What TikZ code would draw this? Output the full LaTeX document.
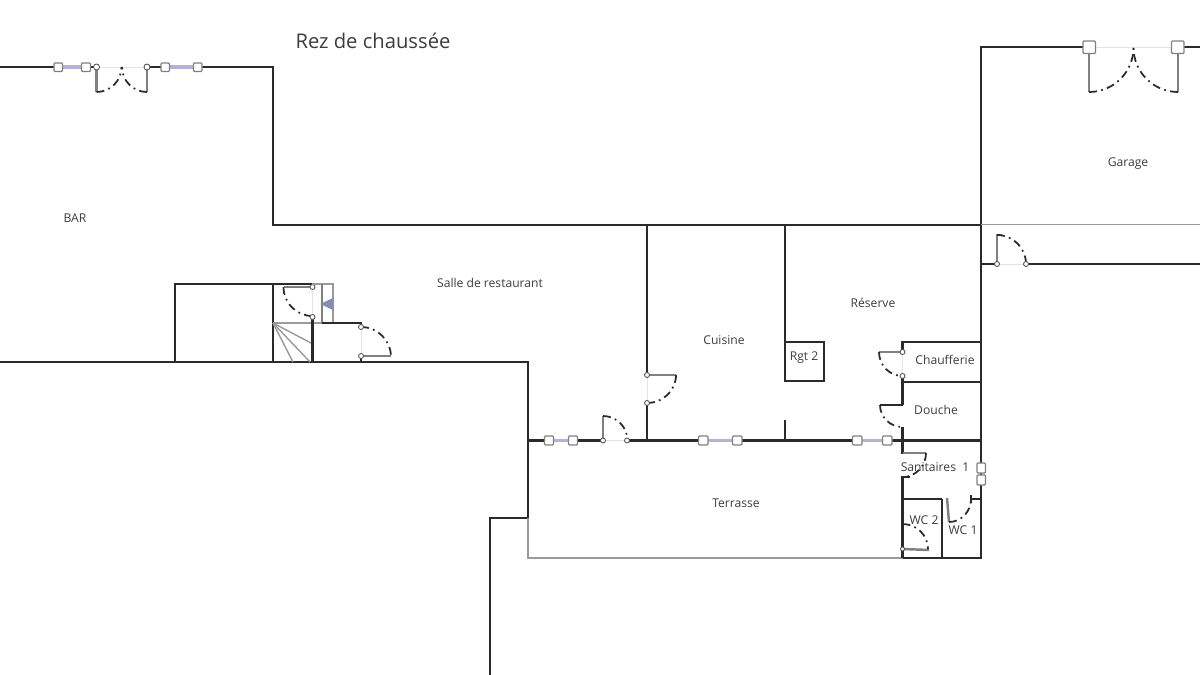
\documentclass[tikz,border=0pt]{standalone}
\usepackage{fontspec}
\setmainfont{Open Sans}
\usepackage{xcolor}
\definecolor{wallcol}{HTML}{2A2A2A}
\definecolor{leafcol}{HTML}{808080}
\definecolor{thincol}{HTML}{9A9A9A}
\definecolor{palecol}{HTML}{E4E4E4}
\definecolor{glasscol}{HTML}{B4B2DC}
\definecolor{pincol}{HTML}{7F8FB5}
\definecolor{textcol}{HTML}{3C3C3C}
\tikzset{
  wall/.style={draw=wallcol,line width=1.2pt,line join=miter},
  thinwall/.style={draw=thincol,line width=0.8pt},
  pale/.style={draw=palecol,line width=0.5pt},
  leaf/.style={draw=leafcol,line width=1.4pt},
  swing/.style={draw=wallcol,line width=1pt,dash pattern=on 4.5pt off 2.5pt on 1pt off 2.5pt},
  glass/.style={draw=glasscol,line width=2.2pt},
  pane/.style={draw=leafcol,fill=white,line width=0.75pt,rounded corners=0.6pt},
  knob/.style={draw=wallcol!80,fill=white,line width=0.5pt},
  roomlabel/.style={text=textcol,font=\fontsize{6.9}{8}\selectfont,inner sep=0pt}
}
\begin{document}
\begin{tikzpicture}[x=0.02cm,y=0.02cm]
\useasboundingbox (0,0) rectangle (1200,-675);
\draw [wall] (0,-67) -- (58,-67);
\draw [wall] (86,-67) -- (96.5,-67);
\draw [wall] (147,-67) -- (165,-67);
\draw [wall] (198,-67) -- (273,-67) -- (273,-225) -- (981,-225);
\draw [glass] (58,-67) -- (86,-67);
\draw [glass] (165,-67) -- (198,-67);
\draw [pale] (96.5,-67) -- (147,-67);
\draw [leaf] (96.5,-67) -- (96.5,-92);
\draw [leaf] (147,-67) -- (147,-92);
\draw [swing] (96.5,-92) arc (270:360:25);
\draw [swing] (147,-92) arc (270:180:25);
\draw [pane] (54,-63) rectangle (62.5,-71.5);
\draw [pane] (81.5,-63) rectangle (90.5,-71.5);
\draw [knob] (96.5,-67) circle (3);
\draw [knob] (147,-67) circle (3);
\draw [pane] (161,-63) rectangle (169.5,-71.5);
\draw [pane] (193.5,-63) rectangle (202,-71.5);
\draw [wall] (1090,-47) -- (981,-47) -- (981,-558) -- (903,-558);
\draw [wall] (1177,-47) -- (1200,-47);
\draw [pale] (1090,-47) -- (1177,-47);
\draw [leaf] (1089,-47) -- (1089,-92);
\draw [leaf] (1178,-47) -- (1178,-92);
\draw [swing] (1089,-92) arc (270:360:44.5);
\draw [swing] (1178,-92) arc (270:180:44.5);
\draw [pane] (1083,-41) rectangle (1095.5,-53.5);
\draw [pane] (1171.5,-41) rectangle (1184,-53.5);
\draw [thinwall] (981,-224.5) -- (1200,-224.5);
\draw [wall] (981,-264) -- (997,-264);
\draw [wall] (1026,-264) -- (1200,-264);
\draw [pale] (997,-264) -- (1026,-264);
\draw [leaf] (997,-264) -- (997,-235) -- (1002,-235);
\draw [swing] (997,-235) arc (90:0:29);
\draw [knob] (997,-264) circle (2.5);
\draw [knob] (1026,-264) circle (2.5);
\draw [wall] (175,-362) -- (175,-284) -- (312,-284);
\draw [wall] (273,-284) -- (273,-362);
\draw [wall] (0,-362) -- (528,-362) -- (528,-518);
\draw [wall] (490,-675) -- (490,-518) -- (528,-518);
\draw [thinwall] (528,-518) -- (528,-558) -- (903,-558);
\draw [thinwall] (273,-323) -- (322,-323);
\draw [thinwall] (273,-323) -- (311,-343);
\draw [thinwall] (273,-323) -- (310,-362);
\draw [thinwall] (273,-323) -- (293,-362);
\draw [wall] (312.5,-317) -- (312.5,-362);
\draw [pale] (312.5,-287) -- (312.5,-317);
\draw [leaf] (312.5,-287) -- (283.5,-287);
\draw [swing] (283.5,-287) arc (180:270:29);
\draw [knob] (312.5,-287) circle (2.5);
\draw [knob] (312.5,-317) circle (2.5);
\draw [thinwall] (312,-284) -- (333,-284) -- (333,-323);
\draw [draw=leafcol,line width=0.8pt] (322,-284) -- (322,-323);
\draw [wall] (322,-323) -- (361,-323) -- (361,-327);
\draw [wall] (361,-356) -- (361,-362);
\draw [pale] (361,-327) -- (361,-356);
\fill [pincol] (320,-304) -- (333,-298) -- (333,-310) -- cycle;
\draw [leaf] (361,-356) -- (391,-356);
\draw [swing] (361,-327) arc (90:0:30);
\draw [knob] (361,-327) circle (2.5);
\draw [knob] (361,-356) circle (2.5);
\draw [wall] (528,-440.5) -- (549,-440.5);
\draw [wall] (573,-440.5) -- (603,-440.5);
\draw [wall] (627,-440.5) -- (703,-440.5);
\draw [wall] (737,-440.5) -- (857,-440.5);
\draw [wall] (887,-440.5) -- (981,-440.5);
\draw [glass] (549,-440.5) -- (573,-440.5);
\draw [glass] (703,-440.5) -- (737,-440.5);
\draw [glass] (857,-440.5) -- (887,-440.5);
\draw [pane] (544.5,-436) rectangle (553.5,-445);
\draw [pane] (568.5,-436) rectangle (577.5,-445);
\draw [pane] (698.5,-436) rectangle (708,-445);
\draw [pane] (732.5,-436) rectangle (742,-445);
\draw [pane] (852.5,-436) rectangle (862,-445);
\draw [pane] (882.5,-436) rectangle (892,-445);
\draw [pale] (603,-440.5) -- (627,-440.5);
\draw [leaf] (603,-440.5) -- (603,-416);
\draw [swing] (603,-416) arc (90:0:24.5);
\draw [knob] (603,-440.5) circle (2.5);
\draw [knob] (627,-440.5) circle (2.5);
\draw [wall] (647,-225) -- (647,-375);
\draw [wall] (647,-403) -- (647,-440.5);
\draw [pale] (647,-375) -- (647,-403);
\draw [leaf] (647,-375) -- (676,-375);
\draw [swing] (676,-375) arc (0:-90:29 and 28);
\draw [knob] (647,-375) circle (2.5);
\draw [knob] (647,-403) circle (2.5);
\draw [wall] (785,-225) -- (785,-381) -- (824,-381) -- (824,-342) -- (785,-342);
\draw [wall] (785,-420) -- (785,-440.5);
\draw [wall] (902.5,-352) -- (902.5,-342) -- (981,-342);
\draw [wall] (902.5,-376) -- (902.5,-405);
\draw [wall] (902.5,-382) -- (981,-382);
\draw [wall] (902.5,-427) -- (902.5,-454);
\draw [pale] (902.5,-352) -- (902.5,-376);
\draw [leaf] (902.5,-352) -- (879,-352);
\draw [swing] (879,-352) arc (180:270:23.5 and 24);
\draw [knob] (902.5,-352) circle (2.5);
\draw [knob] (902.5,-376) circle (2.5);
\draw [wall] (880,-405) -- (902.5,-405);
\draw [swing] (880,-405) arc (180:270:22.5 and 22);
\draw [leaf] (902.5,-453) -- (926,-453);
\draw [swing] (926,-453) arc (0:-90:23.5 and 24);
\draw [wall] (910,-477) -- (902.5,-477) -- (902.5,-558);
\draw [wall] (902.5,-499) -- (942,-499);
\draw [wall] (942,-499) -- (942,-558);
\draw [wall] (971,-499) -- (981,-499);
\draw [wall] (971,-495) -- (971,-503);
\draw [leaf] (947,-498) -- (949,-522);
\draw [swing] (949,-522) arc (270:360:22 and 23);
\draw [leaf] (902.5,-549) -- (929,-550);
\draw [swing] (902.5,-524) arc (90:0:25.5 and 25);
\draw [knob] (902.5,-549) circle (2);
\draw [pane] (977,-463) rectangle (985.5,-473);
\draw [pane] (977,-475) rectangle (985.5,-485);
\node [roomlabel,font=\fontsize{11.5}{13}\selectfont] (title) at (373,-41) {Rez de chaussée};
\node [roomlabel] (bar) at (75,-218) {BAR};
\node [roomlabel] (garage) at (1128,-164) {Garage};
\node [roomlabel] (salle) at (490,-283) {Salle de restaurant};
\node [roomlabel] (reserve) at (873,-303) {Réserve};
\node [roomlabel] (cuisine) at (724,-340) {Cuisine};
\node [roomlabel] (rgt) at (804,-358) {Rgt 2};
\node [roomlabel] (chaufferie) at (945,-360) {Chaufferie};
\node [roomlabel] (douche) at (936,-410) {Douche};
\node [roomlabel] (sanitaires) at (935,-467) {Sanitaires\ \ 1};
\node [roomlabel] (terrasse) at (736,-503) {Terrasse};
\node [roomlabel] (wcdeux) at (924,-520) {WC 2};
\node [roomlabel] (wcun) at (963,-530) {WC 1};
\end{tikzpicture}
\end{document}
